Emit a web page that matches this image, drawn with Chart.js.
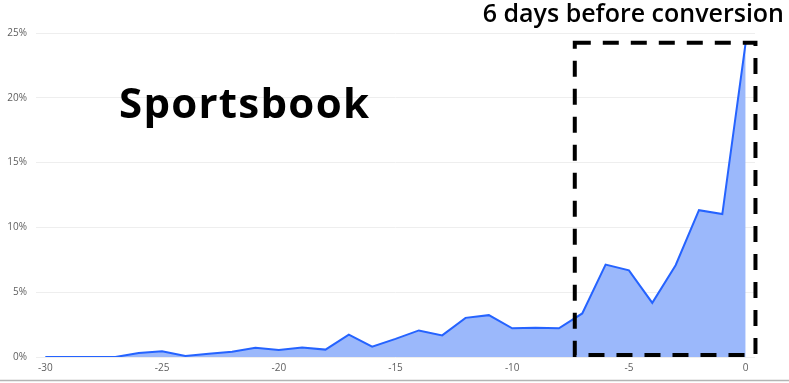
<!DOCTYPE html>
<html>
<head>
<meta charset="utf-8">
<script src="https://cdn.jsdelivr.net/npm/chart.js@4.4.1/dist/chart.umd.min.js"></script>
<style>
  html, body { margin: 0; padding: 0; background: #ffffff; }
  #wrap { position: relative; width: 789px; height: 383px; }
</style>
</head>
<body>
<div id="wrap"><canvas id="c" width="789" height="383"></canvas></div>
<script>
// Days relative to conversion
const days = [-30, -29, -28, -27, -26, -25, -24, -23, -22, -21, -20, -19, -18, -17, -16,
              -15, -14, -13, -12, -11, -10, -9, -8, -7, -6, -5, -4, -3, -2, -1, 0];
// Share of sportsbook activity per day (%)
const share = [0, 0, 0, 0, 0.3, 0.45, 0.08, 0.25, 0.4, 0.72, 0.55, 0.74, 0.57, 1.72, 0.8,
               1.4, 2.05, 1.67, 3.02, 3.23, 2.21, 2.25, 2.21, 3.36, 7.13, 6.69, 4.18, 7.08,
               11.33, 11.03, 24.25];
const yTicks = [0, 5, 10, 15, 20, 25];
const xTicks = [-30, -25, -20, -15, -10, -5, 0];

// Highlighted window: the last days before conversion
const windowDays = [-7.32, 0.42];
const windowShare = [0.15, 24.25];

const titleText = 'Sportsbook';
const windowLabel = '6 days before conversion';

// Draw text, spreading it slightly if it falls short of a given width
function fitText(ctx, text, x, y, targetWidth) {
  ctx.letterSpacing = '0px';
  const w = ctx.measureText(text).width;
  const extra = (targetWidth - w) / (text.length - 1);
  if (extra > 0 && extra < 2) ctx.letterSpacing = extra.toFixed(2) + 'px';
  ctx.fillText(text, x, y);
  ctx.letterSpacing = '0px';
}

const overlay = {
  id: 'overlay',
  afterDatasetsDraw(chart) {
    const { ctx, scales: { x, y } } = chart;
    const x0 = x.getPixelForValue(windowDays[0]);
    const x1 = x.getPixelForValue(windowDays[1]);
    const y0 = y.getPixelForValue(windowShare[1]);
    const y1 = y.getPixelForValue(windowShare[0]);
    ctx.save();
    ctx.strokeStyle = '#000000';
    ctx.lineWidth = 4;
    ctx.setLineDash([16, 12]);
    ctx.strokeRect(x0, y0, x1 - x0, y1 - y0);
    ctx.restore();
  },
  afterDraw(chart) {
    const { ctx, width } = chart;
    ctx.save();
    ctx.fillStyle = '#000000';
    ctx.textBaseline = 'alphabetic';
    ctx.textAlign = 'left';
    ctx.font = '700 42px "Open Sans", "Noto Sans", sans-serif';
    fitText(ctx, titleText, 119, 118, 250);
    ctx.font = '600 25px "Open Sans", "Noto Sans", sans-serif';
    ctx.textAlign = 'right';
    ctx.fillText(windowLabel, 784, 22);
    // frame line along the bottom edge
    ctx.strokeStyle = '#b4b4b4';
    ctx.lineWidth = 1.5;
    ctx.beginPath();
    ctx.moveTo(0, 380.5);
    ctx.lineTo(width, 380.5);
    ctx.stroke();
    ctx.restore();
  }
};

new Chart(document.getElementById('c'), {
  type: 'line',
  data: {
    labels: days,
    datasets: [{
      data: days.map((d, i) => ({ x: d, y: share[i] })),
      borderColor: '#2563ff',
      backgroundColor: '#9bb8fb',
      borderWidth: 2,
      fill: 'origin',
      pointRadius: 0,
      tension: 0
    }]
  },
  options: {
    responsive: false,
    animation: false,
    layout: { padding: { top: 33, right: 34, left: 0, bottom: 0 } },
    plugins: { legend: { display: false }, tooltip: { enabled: false } },
    scales: {
      x: {
        type: 'linear',
        min: -30.4,
        max: 0.4,
        afterBuildTicks(scale) { scale.ticks = xTicks.map(v => ({ value: v })); },
        afterFit(scale) { scale.height = 26; },
        grid: { display: false, drawTicks: false },
        border: { display: false },
        ticks: {
          color: '#5f5f5f',
          font: { family: '"Open Sans", sans-serif', size: 10 },
          padding: 5,
          maxRotation: 0,
          callback: v => String(v)
        }
      },
      y: {
        min: 0,
        max: 25,
        afterBuildTicks(scale) { scale.ticks = yTicks.map(v => ({ value: v })); },
        afterFit(scale) { scale.width = 36; },
        grid: { color: '#eeeeee', lineWidth: 1, drawTicks: false },
        border: { display: false },
        ticks: {
          color: '#5f5f5f',
          font: { family: '"Open Sans", sans-serif', size: 10 },
          padding: 9,
          callback: v => v + '%'
        }
      }
    }
  },
  plugins: [overlay]
});
</script>
</body>
</html>
